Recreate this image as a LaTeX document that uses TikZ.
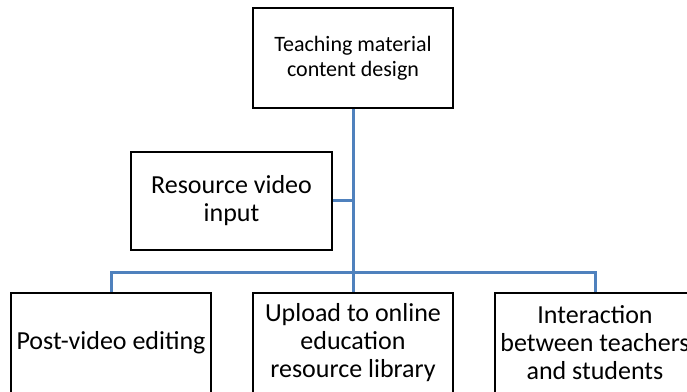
\documentclass[tikz,border=0pt]{standalone}
\usepackage{fontspec}
\setmainfont{Carlito}
\definecolor{linkblue}{RGB}{79,129,189}

\begin{document}
\begin{tikzpicture}[x = 1pt, y = 1pt,
	box/.style = {draw = black, line width = 1.8pt, minimum width = 200pt, minimum height = 100pt, align = center, inner sep = 1pt},
	link/.style = {draw = linkblue, line width = 3pt}]
	\useasboundingbox (0,0) rectangle (687,391);
	\clip (0,0) rectangle (687,391);
	\node[box, font = \fontsize{22}{25}\selectfont] (DESIGN) at (353,333) {Teaching material\\content design};
	\node[box, minimum width = 201pt, minimum height = 98pt, font = \fontsize{26}{28}\selectfont] (INPUT) at (231.5,190) {Resource video\\input};
	\node[box, font = \fontsize{26}{28}\selectfont] (EDIT) at (111,48) {Post-video editing};
	\node[box, font = \fontsize{26}{28}\selectfont] (UPLOAD) at (353,48) {Upload to online\\education\\resource library};
	\node[box, font = \fontsize{26}{28}\selectfont] (TALK) at (595,48) {Interaction\\between teachers\\and students};
	\coordinate (BUS) at (353,119);
	\draw[link] (DESIGN.south) -- (BUS) -- (UPLOAD.north)
	(INPUT.east) -- (INPUT.east -| BUS)
	(EDIT.north) |- (BUS) -| (TALK.north);
\end{tikzpicture}
\end{document}
